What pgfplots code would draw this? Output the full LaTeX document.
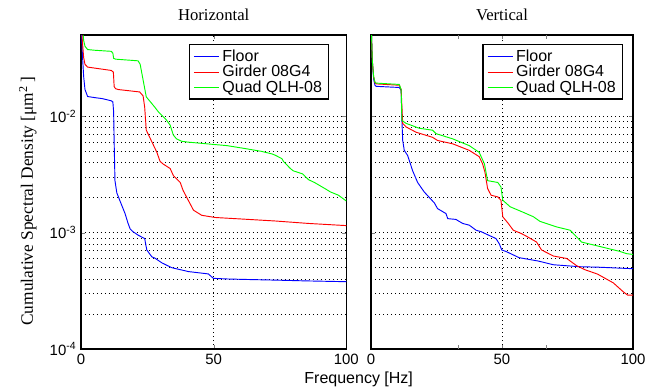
\documentclass[border=0pt]{standalone}
\usepackage{pgfplots}
\pgfplotsset{compat=1.18}
\usepackage{fontspec}
\setmainfont{Liberation Sans}
\newfontfamily\seriffont{Liberation Serif}
\usetikzlibrary{calc}

\pgfplotsset{
  panel/.style={
    scale only axis,
    height=235.5pt,
    xmin=0, xmax=100, ymin=1e-4, ymax=0.05,
    xtick={0,50,100},
    /pgf/number format/assume math mode=true,
    tick label style={font=\fontsize{11.2}{13.4}\selectfont},
    ytick={1e-4,1e-3,1e-2},
    xmajorgrids, ymajorgrids, yminorgrids,
    grid style={black, line width=0.45pt, dash pattern=on 0.6pt off 2.4pt},
    minor grid style={black, line width=0.45pt, dash pattern=on 0.6pt off 2.4pt},
    major tick length=3pt, minor tick length=0pt,
    axis line style={line width=1pt},
    title style={font=\seriffont\fontsize{12.5}{14}\selectfont, yshift=1pt},
    legend style={font=\fontsize{12}{14}\selectfont, draw=black, line width=1pt,
      anchor=north east, legend cell align=left, row sep=-2.4pt,
      inner xsep=3pt, inner ysep=1.5pt},
    legend image code/.code={\draw[##1, line width=0.7pt] (0cm,0cm) -- (0.67cm,0cm);},
    every axis plot/.append style={line width=0.7pt},
  }
}

\begin{document}
\begin{tikzpicture}
\useasboundingbox (-60.75pt,-30.75pt) rectangle (424.5pt,261.75pt);
\begin{semilogyaxis}[panel, name=h, width=199pt, title={Horizontal},
  yticklabels={10\textsuperscript{-4},10\textsuperscript{-3},10\textsuperscript{-2}},
  ylabel={\seriffont\fontsize{13}{15}\selectfont Cumulative Spectral Density [μm\textsuperscript{2}\,]},
  ylabel style={at={(axis description cs:-0.2,0.47)}, anchor=center},
  legend style={at={(0.936,0.971)}}]
\addplot[blue] coordinates {
(0,0.07) (0.5,0.035) (1,0.022) (1.5,0.017) (2.5,0.0148) (5,0.0145) (8,0.0142) (11.4,0.0136) (12.0,0.0133) (12.3,0.011) (12.5,0.006) (12.8,0.0028) (13.5,0.0022) (14.6,0.0019) (16.6,0.00146) (17.7,0.00121) (18.5,0.00108) (19.6,0.00102) (21.6,0.00095) (24.0,0.00089) (24.8,0.00071) (26.7,0.00062) (27.8,0.000605) (30.5,0.00055) (34.2,0.0005) (40.5,0.000463) (48,0.000442) (49.9,0.000405) (55,0.0004) (60.6,0.000397) (73.2,0.000391) (85,0.000385) (100,0.000379)
};
\addplot[red] coordinates {
(0,0.07) (0.5,0.045) (1,0.032) (1.5,0.028) (2.5,0.0265) (5,0.026) (11.4,0.0248) (12.2,0.024) (12.5,0.018) (13,0.0173) (14,0.0170) (22.1,0.0162) (23.4,0.0150) (24,0.012) (24.6,0.0076) (25.9,0.0066) (28.6,0.0049) (29.8,0.0041) (30.9,0.0039) (33.6,0.00356) (34.8,0.0031) (37.4,0.0027) (38.5,0.0023) (39.9,0.002) (42.4,0.00156) (45.5,0.00141) (50.6,0.00135) (60.6,0.00131) (73.2,0.00126) (85.8,0.0012) (100,0.00115)
};
\addplot[green] coordinates {
(0,0.09) (0.5,0.06) (1,0.045) (1.5,0.04) (2.5,0.0375) (5,0.037) (11.4,0.0362) (12.0,0.035) (12.3,0.0315) (13,0.031) (21.5,0.030) (22.3,0.028) (23.5,0.02) (24.6,0.0147) (27.8,0.0120) (29.2,0.0109) (32.2,0.0093) (33.6,0.0084) (34.8,0.0069) (36,0.0064) (38,0.0061) (40.4,0.006) (49.3,0.00575) (55,0.0056) (61.5,0.0053) (68,0.0050) (72,0.00475) (73.2,0.00463) (75.7,0.00433) (76.3,0.0041) (78.9,0.00356) (80,0.0034) (83.5,0.0032) (85.8,0.00285) (88,0.0027) (92.1,0.00238) (94,0.00224) (97,0.0021) (100,0.00187)
};
\legend{Floor, Girder 08G4, Quad QLH-08}
\end{semilogyaxis}

\begin{semilogyaxis}[panel, name=v, width=196.5pt, at={(217.5pt,0pt)}, title={Vertical},
  yticklabels={},
  extra x ticks={33.33,66.67}, extra x tick labels={},
  extra x tick style={grid=none},
  legend style={at={(0.962,0.971)}}]
\addplot[blue] coordinates {
(0,0.07) (0.5,0.03) (1,0.021) (1.5,0.0185) (2,0.0181) (10.8,0.0177) (11.5,0.0167) (11.8,0.0092) (12.1,0.0062) (12.7,0.0051) (14,0.0046) (15.9,0.0034) (17.8,0.0027) (20.3,0.00224) (24.2,0.0018) (25.4,0.00161) (28.6,0.00146) (29.3,0.00132) (32.4,0.0013) (35,0.0012) (37.5,0.00116) (40.1,0.00105) (42,0.00102) (47.7,0.00089) (49,0.0008) (49.9,0.00071) (51.5,0.00069) (56.5,0.00061) (63.9,0.00057) (69.6,0.00053) (79.5,0.00051) (86.8,0.000505) (100,0.00049)
};
\addplot[red] coordinates {
(0,0.07) (0.5,0.03) (1,0.022) (1.5,0.0195) (2,0.019) (10.8,0.0185) (11.5,0.017) (12.1,0.0087) (13.4,0.0081) (17.2,0.0073) (23.5,0.0066) (25.4,0.0062) (31.2,0.0058) (37.5,0.0051) (41.3,0.0045) (42.6,0.0039) (43.5,0.0033) (44.5,0.0024) (45.8,0.0021) (48.4,0.00203) (49.6,0.0019) (50.3,0.00137) (52.4,0.0012) (54.3,0.00105) (57.5,0.00098) (59.4,0.00093) (63.2,0.00083) (65.1,0.00071) (69.6,0.00063) (74.7,0.00060) (78.5,0.00052) (81.7,0.00048) (86.5,0.00044) (92.5,0.00037) (96.3,0.00031) (98,0.00029) (100,0.00029)
};
\addplot[green] coordinates {
(0,0.07) (0.5,0.03) (1,0.022) (1.5,0.0197) (2,0.0193) (10.8,0.0188) (11.5,0.017) (11.8,0.0092) (13.4,0.0087) (18.4,0.0079) (23.5,0.0076) (24.8,0.0071) (31.2,0.0064) (37.5,0.0056) (41.3,0.0049) (43.3,0.0039) (44.5,0.0028) (48.4,0.0027) (49.6,0.00247) (50.3,0.0019) (53.1,0.00167) (58,0.0015) (62,0.00137) (64.5,0.00125) (70.9,0.00112) (76,0.00105) (80.4,0.00083) (87.4,0.00076) (95,0.00069) (97.6,0.00066) (100,0.00065)
};
\legend{Floor, Girder 08G4, Quad QLH-08}
\end{semilogyaxis}

\node[font=\fontsize{12}{14}\selectfont] at ($($(h.south east)!0.5!(v.south west)$)+(0,-23pt)$) {Frequency [Hz]};
\end{tikzpicture}
\end{document}
